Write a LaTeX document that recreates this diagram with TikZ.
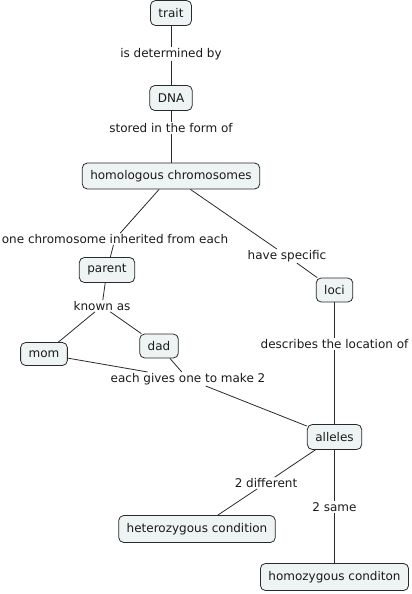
\documentclass[tikz,border=0pt]{standalone}
\usepackage{fontspec}
\setmainfont{DejaVu Sans}
\definecolor{boxfill}{HTML}{EEF3F4}
\definecolor{ink}{HTML}{1A1A1A}
\definecolor{edge}{HTML}{2A2A2A}
\begin{document}
\begin{tikzpicture}[x=1pt,y=-1pt,
  concept/.style={draw=edge,line width=0.8pt,fill=boxfill,rounded corners=5pt,
    inner xsep=8pt,inner ysep=0pt,minimum height=25pt,text=ink,
    font=\fontsize{12}{14}\selectfont},
  linklabel/.style={inner xsep=1pt,inner ysep=1pt,text=ink,
    font=\fontsize{12}{14}\selectfont},
  conn/.style={draw=edge,line width=0.8pt}]
\useasboundingbox (0,0) rectangle (412,594);
\node[concept] (trait) at (171,13) {trait};
\node[concept] (dna) at (171,98) {DNA};
\node[concept,minimum height=26pt] (hom) at (171,176) {homologous chromosomes};
\node[concept] (parent) at (107,270) {parent};
\node[concept,minimum height=24pt] (loci) at (334.5,290) {loci};
\node[concept,minimum height=23pt] (mom) at (44,354) {mom};
\node[concept,minimum height=24pt] (dad) at (159,346) {dad};
\node[concept] (alleles) at (334.5,437) {alleles};
\node[concept,minimum height=27pt] (het) at (197,529) {heterozygous condition};
\node[concept,minimum height=27pt] (homo) at (334.5,577) {homozygous conditon};

\node[linklabel] (l1) at (171,54) {is determined by};
\node[linklabel] (l2) at (171,128) {stored in the form of};
\node[linklabel] (l3) at (115,239) {one chromosome inherited from each};
\node[linklabel] (l4) at (287,256) {have specific};
\node[linklabel] (l5) at (102,306) {known as};
\node[linklabel] (l6) at (188,379) {each gives one to make 2};
\node[linklabel] (l7) at (334.5,344) {describes the location of};
\node[linklabel] (l8) at (266,483) {2 different};
\node[linklabel] (l9) at (334.5,507) {2 same};

\draw[conn] (trait) -- (l1);
\draw[conn] (l1) -- (dna);
\draw[conn] (dna) -- (l2);
\draw[conn] (l2) -- (hom);
\draw[conn] (hom) -- (l3);
\draw[conn] (l3) -- (parent);
\draw[conn] (hom) -- (l4);
\draw[conn] (l4) -- (loci);
\draw[conn] (parent) -- (l5);
\draw[conn] (l5) -- (mom);
\draw[conn] (l5) -- (dad);
\draw[conn] (mom) -- (l6);
\draw[conn] (dad) -- (l6);
\draw[conn] (l6) -- (alleles);
\draw[conn] (loci) -- (l7);
\draw[conn] (l7) -- (alleles);
\draw[conn] (alleles) -- (l8);
\draw[conn] (l8) -- (het);
\draw[conn] (alleles) -- (l9);
\draw[conn] (l9) -- (homo);
\end{tikzpicture}
\end{document}
